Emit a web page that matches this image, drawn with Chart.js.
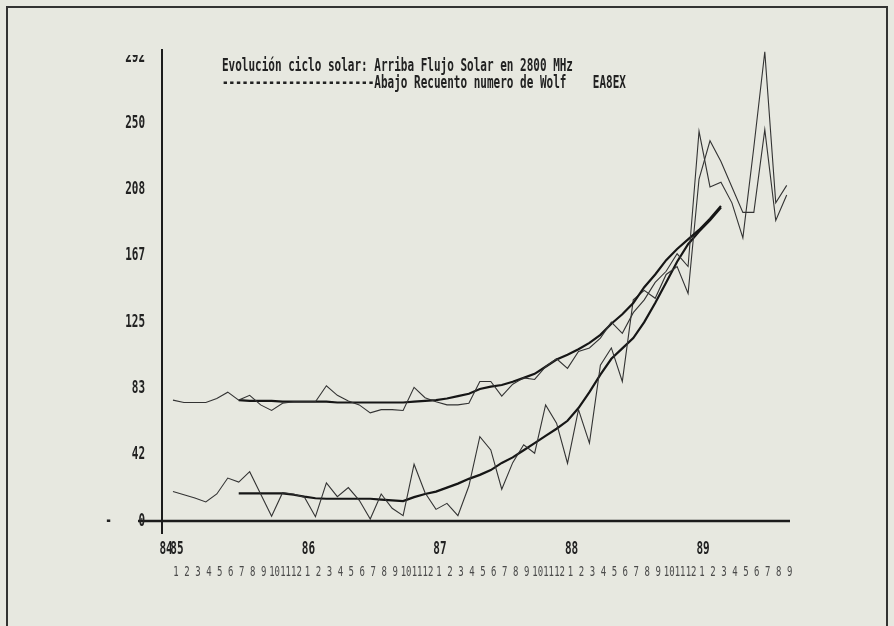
<!DOCTYPE html>
<html>
<head>
<meta charset="utf-8">
<script src="https://cdn.jsdelivr.net/npm/chart.js@4"></script>
<style>
  html, body { margin: 0; padding: 0; background: #e7e8e0; }
  #marco { position: absolute; left: 6px; top: 6px; width: 882px; height: 640px; border: 2px solid #333; box-sizing: border-box; }
  canvas { position: absolute; left: 0; top: 0; }
</style>
</head>
<body>
<div id="marco"></div>
<canvas id="grafico" width="894" height="626"></canvas>
<script>
// Meses desde enero 1985 (0) hasta septiembre 1989 (56)
const mesInicioSuavizado = 6;

// Flujo solar 2800 MHz, valores mensuales
const flujoMensual = [
  76, 74.5, 74.5, 74.5, 77, 81, 76, 79, 73, 69.5, 74, 75,
  75, 75, 85, 79, 75.5, 73, 68, 70, 70, 69.5, 84, 77.5,
  75, 73, 73, 74, 87.7, 87.7, 78.5, 86, 90, 89, 97, 102,
  96, 106.6, 108.8, 115, 125, 118, 131, 139, 150, 157, 168, 160,
  245, 210, 213, 200, 178, 235, 295, 200, 211
];

// Flujo solar, media suavizada (julio 1985 - marzo 1989)
const flujoSuavizado = [
  76, 75.5, 75.5, 75.5, 75, 75, 75, 75, 75, 74.5, 74.5, 74.5,
  74.5, 74.5, 74.5, 74.5, 75, 75.5, 76, 77, 78.5, 80, 83, 84.5,
  85.5, 87.5, 90, 92.5, 97, 101.5, 104.5, 108, 112, 117, 124, 130,
  137, 147, 155, 164, 171, 177, 183, 190, 198
];

// Numero de Wolf, valores mensuales
const wolfMensual = [
  18.5, 16.5, 14.5, 12, 17, 27, 24.5, 31, 17, 3, 17.8, 17,
  15, 2.7, 24, 15.3, 21, 13, 1.3, 17, 8, 3.4, 35.7, 17.8,
  7.3, 11.1, 3.4, 22, 53, 44.7, 20, 36.7, 47.9, 42.6, 73, 61.5,
  36.3, 70, 49, 98, 108.8, 87.7, 139, 145, 140, 155, 160, 143,
  215, 239, 226, 210, 194, 194, 246, 189, 205
];

// Numero de Wolf, media suavizada (julio 1985 - marzo 1989)
const wolfSuavizado = [
  17.4, 17.4, 17.4, 17.4, 17.4, 16.5, 15.3, 14.3, 14, 14, 14, 14,
  14, 13.5, 13, 12.5, 15, 17, 18.5, 21, 23.5, 26.5, 29, 32,
  36.5, 40, 44.5, 49, 53.5, 58, 63, 71, 81, 92, 102, 108.5,
  115, 125, 137, 150, 163, 174, 182, 189, 197
];

// Rotulos del eje vertical (escala en sextos de 250)
const valoresEjeY = [0, 250 / 6, 500 / 6, 125, 1000 / 6, 1250 / 6, 250, 1750 / 6];
const rotulosEjeY = ['-    0', '42', '83', '125', '167', '208', '250', '292'];

// Rotulos de años y meses del eje horizontal
const mesesAnio = [-1, 0, 12, 24, 36, 48];
const rotulosAnio = ['84', '85', '86', '87', '88', '89'];
const rotulosMes = ['1', '2', '3', '4', '5', '6', '7', '8', '9', '10', '11', '12'];

const titulo1 = 'Evolución ciclo solar: Arriba Flujo Solar en 2800 MHz';
const titulo2 = '-----------------------Abajo Recuento numero de Wolf    EA8EX';

function aPuntos(valores, desde) {
  return valores.map(function (v, i) { return {x: desde + i, y: v}; });
}

// Texto alto y estrecho, como el de la pantalla original
function textoAlto(ctx, texto, x, y, align, size, color, peso) {
  ctx.save();
  ctx.translate(x, y);
  ctx.scale(1, 1.6);
  ctx.font = (peso || 'bold') + ' ' + size + 'px "DejaVu Sans Mono"';
  ctx.textAlign = align;
  ctx.textBaseline = 'middle';
  ctx.fillStyle = color || '#222';
  ctx.fillText(texto, 0, 0);
  ctx.restore();
}

const rotulos = {
  id: 'rotulos',
  afterDraw: function (chart) {
    const ctx = chart.ctx;
    const xs = chart.scales.x;
    const ys = chart.scales.y;
    const y0 = ys.getPixelForValue(0);

    // linea de cero
    ctx.save();
    ctx.strokeStyle = '#1c1c1c';
    ctx.lineWidth = 2.5;
    ctx.beginPath();
    ctx.moveTo(xs.left - 24, y0);
    ctx.lineTo(xs.right, y0);
    ctx.stroke();
    ctx.restore();

    // rotulos del eje Y, el de arriba queda cortado
    ctx.save();
    ctx.beginPath();
    ctx.rect(0, ys.top + 5, xs.left, ys.bottom);
    ctx.clip();
    for (let k = 0; k < valoresEjeY.length; k++) {
      textoAlto(ctx, rotulosEjeY[k], xs.left - 17, ys.getPixelForValue(valoresEjeY[k]), 'right', 11);
    }
    ctx.restore();

    // años
    for (let k = 0; k < mesesAnio.length; k++) {
      textoAlto(ctx, rotulosAnio[k], xs.getPixelForValue(mesesAnio[k]) + 4, y0 + 28, 'center', 11);
    }

    // meses, apretados bajo cada año
    for (let m = 0; m <= 56; m++) {
      textoAlto(ctx, rotulosMes[m % 12], xs.getPixelForValue(m) + 3, y0 + 51, 'center', 9, '#4a4a4a', 'normal');
    }

    // titulo
    textoAlto(ctx, titulo1, 222, 66, 'left', 11);
    textoAlto(ctx, titulo2, 222, 83, 'left', 11);
  }
};

const ctx = document.getElementById('grafico').getContext('2d');

new Chart(ctx, {
  type: 'line',
  data: {
    datasets: [{
      label: 'Flujo mensual',
      data: aPuntos(flujoMensual, 0),
      borderColor: '#333',
      borderWidth: 1.1
    }, {
      label: 'Flujo suavizado',
      data: aPuntos(flujoSuavizado, mesInicioSuavizado),
      borderColor: '#161616',
      borderWidth: 2.2
    }, {
      label: 'Wolf mensual',
      data: aPuntos(wolfMensual, 0),
      borderColor: '#333',
      borderWidth: 1.1
    }, {
      label: 'Wolf suavizado',
      data: aPuntos(wolfSuavizado, mesInicioSuavizado),
      borderColor: '#161616',
      borderWidth: 2.2
    }]
  },
  options: {
    responsive: false,
    animation: false,
    devicePixelRatio: 1,
    layout: {
      padding: {left: 154, right: 104, top: 50, bottom: 85}
    },
    elements: {
      point: {radius: 0},
      line: {tension: 0}
    },
    plugins: {
      legend: {display: false},
      tooltip: {enabled: false}
    },
    scales: {
      x: {
        type: 'linear',
        min: -1,
        max: 56.3,
        ticks: {display: false},
        grid: {display: false},
        border: {display: false}
      },
      y: {
        min: -7.54,
        max: 296.1,
        ticks: {display: false},
        grid: {display: false},
        border: {color: '#1c1c1c', width: 2}
      }
    }
  },
  plugins: [rotulos]
});
</script>
</body>
</html>
